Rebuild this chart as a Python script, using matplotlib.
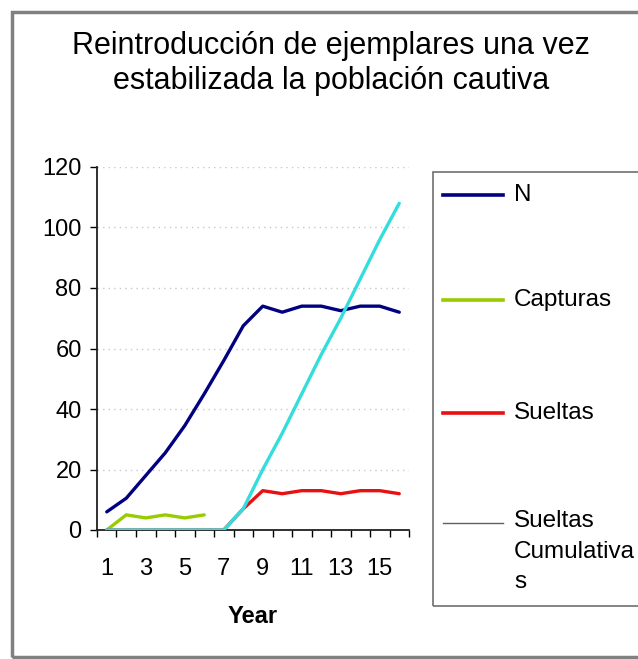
import matplotlib
matplotlib.use("Agg")
import matplotlib.pyplot as plt
from matplotlib.lines import Line2D
from matplotlib.patches import Rectangle
import numpy as np

plt.rcParams["font.family"] = ["Liberation Sans", "DejaVu Sans"]

# datos
years = list(range(1, 17))
n_pop = [6, 10.5, 18, 25.5, 34.5, 45, 56, 67.5, 74, 72, 74, 74, 72.5, 74, 74, 72]
capturas = [0, 5, 4, 5, 4, 5] + [np.nan] * 10
sueltas = [0, 0, 0, 0, 0, 0, 0, 7, 13, 12, 13, 13, 12, 13, 13, 12]
sueltas_cum = list(np.cumsum(sueltas))

series_labels = ["N", "Capturas", "Sueltas", "Sueltas\nCumulativa\ns"]
series_colors = ["#000080", "#99CC00", "#E81010", "#33DDDD"]
legend_colors = ["#000080", "#99CC00", "#E81010", "#606060"]
y_ticks = [0, 20, 40, 60, 80, 100, 120]
x_labels = [1, 3, 5, 7, 9, 11, 13, 15]

W, H = 638, 659
fig = plt.figure(figsize=(W / 100, H / 100), dpi=100)


def fx(px):
    return px / W


def fy(py):
    return 1 - py / H


ax = fig.add_axes([fx(97), fy(530), fx(409) - fx(97), fy(167) - fy(530)])
for vals, col in zip([n_pop, capturas, sueltas, sueltas_cum], series_colors):
    ax.plot(years, vals, color=col, lw=2.4, solid_capstyle="round", zorder=3)

ax.set_xlim(0.5, 16.5)
ax.set_ylim(0, 120)
ax.set_yticks(y_ticks)
ax.set_xticks(x_labels)
ax.set_xticks(np.arange(0.5, 17, 1), minor=True)
ax.tick_params(axis="x", which="major", length=0, pad=20, labelsize=17)
ax.tick_params(axis="x", which="minor", length=5, width=1, direction="out")
ax.tick_params(axis="y", length=5, width=1, direction="out", labelsize=17, pad=6)
ax.grid(axis="y", linestyle=(0, (1, 3)), color="#c8c8c8", lw=1)
ax.set_axisbelow(True)
for s in ["top", "right"]:
    ax.spines[s].set_visible(False)
for s in ["left", "bottom"]:
    ax.spines[s].set_color("#202020")
    ax.spines[s].set_linewidth(1.3)
ax.set_xlabel("Year", fontsize=17, fontweight="bold", labelpad=18)

# titulo
fig.text(fx(331), fy(46), "Reintroducción de ejemplares una vez", ha="center", va="center", fontsize=22)
fig.text(fx(331), fy(81), "estabilizada la población cautiva", ha="center", va="center", fontsize=22)

# marco exterior
fig.add_artist(Rectangle((fx(12), fy(657)), 1.2, fy(12) - fy(657), transform=fig.transFigure,
                         fill=False, edgecolor="#808080", lw=2.5))

# leyenda manual (estilo Excel)
fig.add_artist(Rectangle((fx(433), fy(606)), 1.2, fy(172) - fy(606), transform=fig.transFigure,
                         fill=False, edgecolor="#707070", lw=1.2))
leg_y = [195, 300, 413, 523]
for lab, col, yy in zip(series_labels, legend_colors, leg_y):
    lw = 1.0 if col == "#606060" else 2.6
    fig.add_artist(Line2D([fx(443), fx(503)], [fy(yy), fy(yy)], transform=fig.transFigure,
                          color=col, lw=lw))
    fig.text(fx(514), fy(yy), lab, ha="left", va="top" if "\n" in lab else "center",
             fontsize=17.5, linespacing=1.5)
# ajustar el texto multilinea para que la primera linea quede a la altura de la linea
fig.texts[-1].set_y(fy(510))

fig.savefig("out.png", dpi=100)
